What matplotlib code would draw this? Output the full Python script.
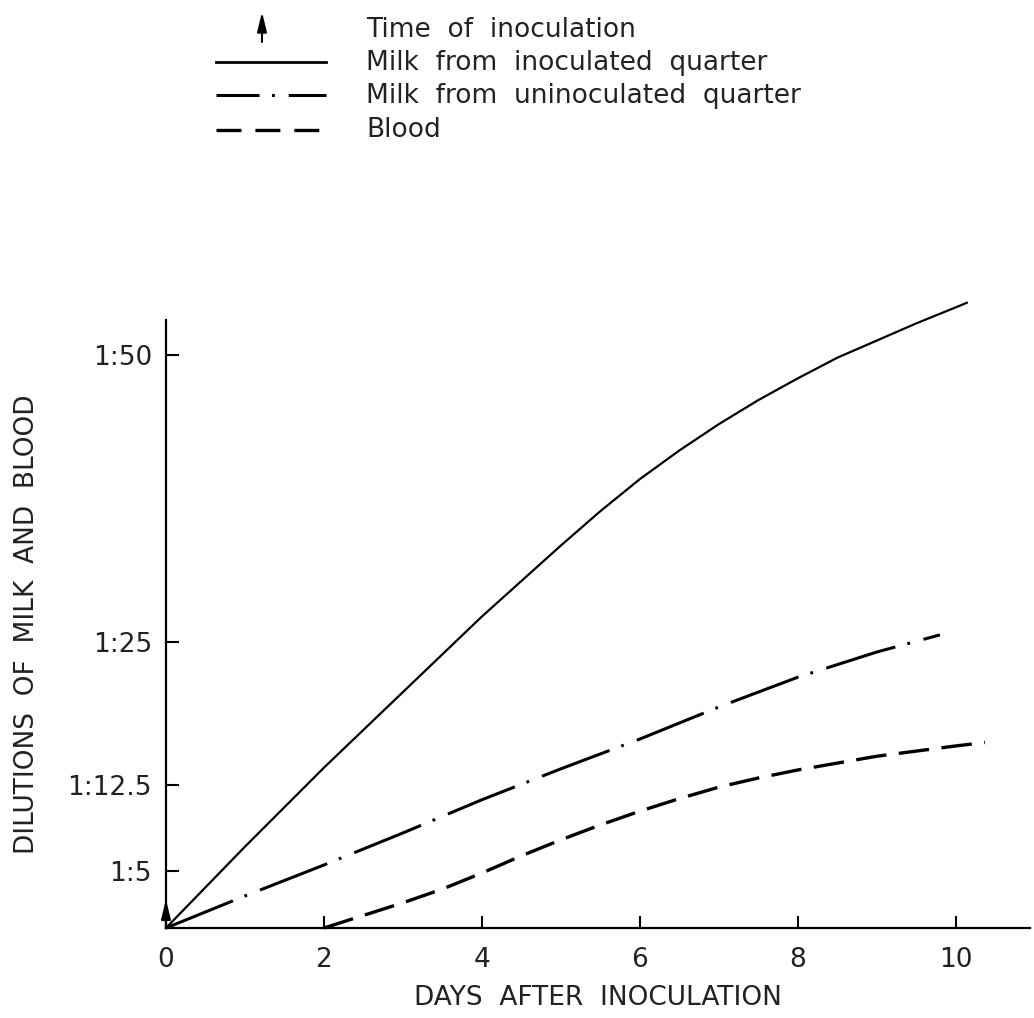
import numpy as np
import matplotlib.pyplot as plt
from matplotlib.lines import Line2D
from matplotlib.patches import FancyArrowPatch

plt.rcParams['font.family'] = ['DejaVu Sans']
plt.rcParams['lines.scale_dashes'] = False

# values
days_inoc = [0, 1, 2, 3, 4, 5, 5.5, 6, 6.5, 7, 7.5, 8, 8.5, 9, 9.5, 10, 10.14]
milk_inoc = [0, 7.1, 14.0, 20.6, 27.2, 33.4, 36.4, 39.2, 41.7, 44.0, 46.1, 48.0, 49.8,
             51.3, 52.8, 54.2, 54.6]

days_uninoc = [0, 1, 2, 3, 4, 5, 6, 7, 8, 9, 9.8]
milk_uninoc = [0, 2.8, 5.5, 8.3, 11.2, 13.9, 16.5, 19.3, 21.9, 24.1, 25.6]

days_blood = [2, 2.5, 3, 3.5, 4, 4.5, 5, 5.5, 6, 6.5, 7, 7.5, 8, 9, 10, 10.37]
blood = [0, 1.1, 2.2, 3.4, 4.8, 6.3, 7.7, 9.0, 10.2, 11.3, 12.3, 13.1, 13.8, 15.0, 15.9, 16.2]

x_ticks = [0, 2, 4, 6, 8, 10]
x_ticklabels = ['0', '2', '4', '6', '8', '10']
y_ticks = [5, 12.5, 25, 50]
y_ticklabels = ['1:5', '1:12.5', '1:25', '1:50']

legend_labels = ['Time  of  inoculation',
                 'Milk  from  inoculated  quarter',
                 'Milk  from  uninoculated  quarter',
                 'Blood']

dashdot = (0, (52, 9, 2, 10))
dashed = (0, (22, 9))

fig = plt.figure(figsize=(10.34, 10.18), dpi=100)
ax = fig.add_axes([0.1605, 0.0884, 0.8356, 0.5973])

ax.plot(days_inoc, milk_inoc, color='k', lw=1.6, linestyle='-', clip_on=False)
ax.plot(days_uninoc, milk_uninoc, color='k', lw=2.2, linestyle=dashdot, clip_on=False)
ax.plot(days_blood, blood, color='k', lw=2.4, linestyle=dashed, clip_on=False)

# time of inoculation arrow
ax.annotate('', xy=(0, 2.5), xytext=(0, 0),
            arrowprops=dict(arrowstyle='-|>,head_length=0.9,head_width=0.22',
                            color='k', lw=1.5, shrinkA=0, shrinkB=0,
                            mutation_scale=13))

ax.set_xlim(0, 10.94)
ax.set_ylim(0, 53.1)
ax.spines['top'].set_visible(False)
ax.spines['right'].set_visible(False)
for s in ['left', 'bottom']:
    ax.spines[s].set_linewidth(1.6)

ax.set_xticks(x_ticks)
ax.set_xticklabels(x_ticklabels, fontsize=19, color='#222222')
ax.set_yticks(y_ticks)
ax.set_yticklabels(y_ticklabels, fontsize=19, color='#222222')
ax.tick_params(direction='in', length=9, width=1.5, pad=10)
ax.tick_params(axis='x', pad=14)

ax.set_xlabel('DAYS  AFTER  INOCULATION', fontsize=19, color='#222222', labelpad=8)
ax.set_ylabel('DILUTIONS  OF  MILK  AND  BLOOD', fontsize=19, color='#222222', labelpad=20)

# legend drawn in figure pixel coordinates
W, H = 1034, 1018
def fx(px):
    return px / W
def fy(py):
    return 1 - py / H

fig.add_artist(Line2D([fx(216), fx(326)], [fy(62), fy(62)], color='k', lw=2.0))
fig.add_artist(Line2D([fx(216), fx(326)], [fy(95), fy(95)], color='k', lw=2.2,
                      linestyle=(0, (31, 9, 2, 10))))
fig.add_artist(Line2D([fx(216), fx(326)], [fy(130), fy(130)], color='k', lw=2.4,
                      linestyle=(0, (18, 10))))
fig.add_artist(FancyArrowPatch(
    (fx(262), fy(42)), (fx(262), fy(12)), transform=fig.transFigure,
    arrowstyle='-|>,head_length=0.9,head_width=0.22', color='k', lw=1.5,
    shrinkA=0, shrinkB=0, mutation_scale=13))

for i, lab in enumerate(legend_labels):
    fig.text(fx(366), fy([30, 63, 96, 130][i]), lab, fontsize=19, color='#222222',
             va='center', ha='left')

fig.savefig('out.png', dpi=100)
